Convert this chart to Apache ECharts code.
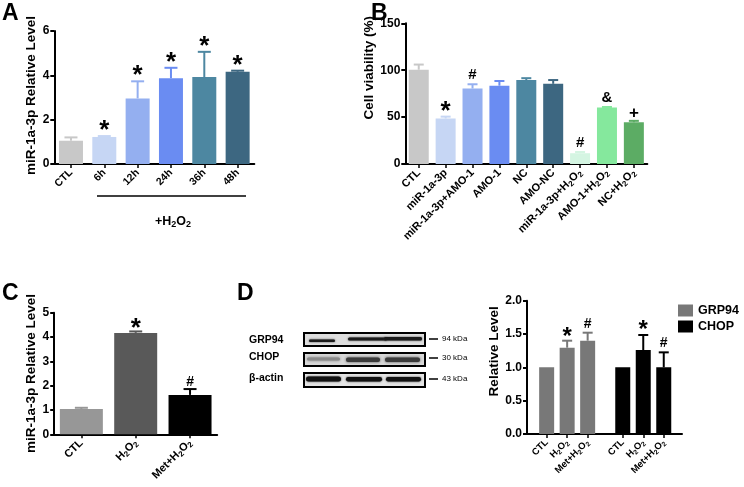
<!DOCTYPE html>
<html><head><meta charset="utf-8">
<script src="https://cdn.jsdelivr.net/npm/echarts@6/dist/echarts.min.js"></script>
<style>html,body{margin:0;padding:0;background:#fff}#c{width:744px;height:487px}</style>
</head><body><div id="c"></div>
<script>
// ---------- Panel A ----------
const catA = ['CTL', '6h', '12h', '24h', '36h', '48h'];
const valA = [1.05, 1.22, 2.96, 3.87, 3.92, 4.16];
const errA = [1.20, 1.26, 3.73, 4.34, 5.06, 4.21];
const noteA = ['', '*', '*', '*', '*', '*'];
// ---------- Panel B ----------
const catB = ['CTL', 'miR-1a-3p', 'miR-1a-3p+AMO-1', 'AMO-1', 'NC', 'AMO-NC', 'miR-1a-3p+H2O2', 'AMO-1+H2O2', 'NC+H2O2'];
const valB = [100.5, 48.5, 80.5, 83.5, 89.5, 85.5, 11.5, 60.3, 44.5];
const errB = [106, 50.5, 85, 88.5, 91.5, 89.5, 12.8, 60.8, 46];
const noteB = ['', '*', '#', '', '', '', '#', '&', '+'];
// ---------- Panel C ----------
const catC = ['CTL', 'H2O2', 'Met+H2O2'];
const valC = [1.04, 4.17, 1.62];
const errC = [1.09, 4.23, 1.86];
const noteC = ['', '*', '#'];
// ---------- Panel D ----------
const catD = ['CTL', 'H2O2', 'Met+H2O2'];
const grp94 = [1.0, 1.295, 1.40];
const grp94Err = [1.0, 1.40, 1.52];
const chop = [1.0, 1.26, 1.0];
const chopErr = [1.0, 1.485, 1.225];
const noteGRP = ['', '*', '#'];
const noteCHOP = ['', '*', '#'];

// ---------- styles ----------
const colA = ['#c8c8c8', '#c6d6f4', '#94aff0', '#6a8cf2', '#4d87a1', '#3d6781'];
const colB = ['#c8c8c8', '#c6d6f4', '#94aff0', '#6a8cf2', '#4d87a1', '#3d6781', '#d4f5e2', '#85e89d', '#5cac64'];
const colC = ['#979797', '#595959', '#000000'];
const colGRP = '#787878', colCHOP = '#000000';
const FF = 'Liberation Sans, Arial, sans-serif';

const sub = s => s.replace(/H2O2/g, 'H{s|2}O{s|2}');
function catLabel(fs) {
  return {
    rotate: 45, interval: 0, margin: 7, color: '#000', fontWeight: 'bold', fontSize: fs, fontFamily: FF,
    lineHeight: fs + 3,
    formatter: v => sub(v),
    rich: { s: { fontSize: fs * 0.72, fontWeight: 'bold', fontFamily: FF, color: '#000', verticalAlign: 'bottom', lineHeight: fs * 0.6 } }
  };
}
const axLine = { show: true, lineStyle: { color: '#000', width: 2 } };
function catAxis(gi, data, fs) {
  return {
    type: 'category', gridIndex: gi, data: data, boundaryGap: true,
    axisLine: axLine,
    axisTick: { show: true, alignWithLabel: true, interval: 0, length: 4, lineStyle: { color: '#000', width: 1.5 } },
    axisLabel: catLabel(fs), splitLine: { show: false }
  };
}
function valAxis(gi, min, max, itv, name, gap, shiftUp, fmt) {
  return {
    type: 'value', gridIndex: gi, min: min, max: max, interval: itv,
    axisLine: axLine,
    axisTick: { show: true, length: 4, lineStyle: { color: '#000', width: 2 } },
    axisLabel: { color: '#000', fontWeight: 'bold', fontSize: 12, fontFamily: FF, margin: 5, formatter: fmt },
    splitLine: { show: false },
    name: name, nameLocation: 'middle', nameGap: gap,
    nameTextStyle: { color: '#000', fontWeight: 'bold', fontSize: 13.5, fontFamily: FF, padding: [0, 0, 0, shiftUp * 2] }
  };
}
function errSeries(xi, vals, errs, cols, notes, capW, fonts) {
  return {
    type: 'custom', xAxisIndex: xi, yAxisIndex: xi, clip: false, z: 5,
    data: vals.map((v, i) => [i, v, errs[i]]),
    renderItem: function (params, api) {
      const i = api.value(0), v = api.value(1), e = api.value(2);
      const p0 = api.coord([i, v]), p1 = api.coord([i, e]);
      const col = Array.isArray(cols) ? cols[params.dataIndex] : cols;
      const ch = [];
      if (e > v) {
        ch.push({ type: 'line', shape: { x1: p0[0], y1: p0[1], x2: p1[0], y2: p1[1] }, style: { stroke: col, lineWidth: 2 } });
        ch.push({ type: 'line', shape: { x1: p1[0] - capW / 2, y1: p1[1], x2: p1[0] + capW / 2, y2: p1[1] }, style: { stroke: col, lineWidth: 2 } });
      }
      const n = notes[params.dataIndex];
      if (n) {
        const f = fonts[n];
        ch.push({ type: 'text', style: { text: n, x: p1[0], y: p1[1] - f[1], align: 'center', verticalAlign: 'middle', font: 'bold ' + f[0] + 'px ' + FF, fill: '#000' } });
      }
      return { type: 'group', children: ch };
    }
  };
}
function barSeries(xi, name, vals, cols, bw) {
  return {
    type: 'bar', name: name, xAxisIndex: xi, yAxisIndex: xi, barWidth: bw, data: vals,
    itemStyle: { color: Array.isArray(cols) ? (p => cols[p.dataIndex]) : cols },
    emphasis: { disabled: true }, animation: false
  };
}

const grids = [
  { left: 54.3, top: 31, width: 200, height: 133 },        // A
  { left: 405.3, top: 23.3, width: 242, height: 140.7 },    // B
  { left: 54.2, top: 312.7, width: 163, height: 121.6 },    // C
  { left: 527, top: 300.7, width: 155, height: 133.3 },     // D frame
  { left: 536.4, top: 300.7, width: 61.5, height: 133.3 },  // D GRP94
  { left: 612.5, top: 300.7, width: 61.5, height: 133.3 }   // D CHOP
].map(g => Object.assign({ outerBoundsMode: 'none', containLabel: false }, g));

const dCat = a => Object.assign(catAxis(a, catD, 9.5), { axisLine: { show: false } });

const option = {
  backgroundColor: '#fff',
  animation: false,
  grid: grids,
  legend: {
    data: ['GRP94', 'CHOP'], orient: 'vertical', left: 678, top: 304, padding: 0, itemWidth: 15, itemHeight: 12, itemGap: 3,
    icon: 'rect', selectedMode: false,
    textStyle: { color: '#000', fontWeight: 'bold', fontSize: 12.5, fontFamily: FF }
  },
  xAxis: [
    catAxis(0, catA, 10.5),
    catAxis(1, catB, 11),
    catAxis(2, catC, 11),
    { type: 'value', gridIndex: 3, min: 0, max: 1, axisLine: axLine, axisTick: { show: false }, axisLabel: { show: false }, splitLine: { show: false } },
    dCat(4),
    dCat(5)
  ],
  yAxis: [
    valAxis(0, 0, 6, 2, 'miR-1a-3p Relative Level', 15, 2),
    valAxis(1, 0, 150, 50, 'Cell viability (%)', 29, 26),
    valAxis(2, 0, 5, 1, 'miR-1a-3p Relative Level', 15, 0),
    valAxis(3, 0, 2, 0.5, 'Relative Level', 18, 16, v => v.toFixed(1)),
    { type: 'value', gridIndex: 4, min: 0, max: 2, show: false },
    { type: 'value', gridIndex: 5, min: 0, max: 2, show: false }
  ],
  series: [
    barSeries(0, 'A', valA, colA, 24),
    errSeries(0, valA, errA, colA, noteA, 13, { '*': [26, 5] }),
    barSeries(1, 'B', valB, colB, 20),
    errSeries(1, valB, errB, colB, noteB, 10, { '*': [26, 5], '#': [15, 9], '&': [15, 9], '+': [17, 8] }),
    barSeries(2, 'C', valC, colC, 43),
    errSeries(2, valC, errC, colC, noteC, 13, { '*': [26, 3], '#': [14, 7] }),
    barSeries(4, 'GRP94', grp94, colGRP, 15),
    errSeries(4, grp94, grp94Err, colGRP, noteGRP, 10, { '*': [24, 3], '#': [14, 9] }),
    barSeries(5, 'CHOP', chop, colCHOP, 15),
    errSeries(5, chop, chopErr, colCHOP, noteCHOP, 10, { '*': [24, 5], '#': [14, 9] })
  ],
  graphic: [
    // panel letters
    { type: 'text', left: 2, top: 2, style: { text: 'A', font: 'bold 23px ' + FF, fill: '#000' } },
    { type: 'text', left: 371, top: 2, style: { text: 'B', font: 'bold 23px ' + FF, fill: '#000' } },
    { type: 'text', left: 2, top: 282, style: { text: 'C', font: 'bold 23px ' + FF, fill: '#000' } },
    { type: 'text', left: 237, top: 282, style: { text: 'D', font: 'bold 23px ' + FF, fill: '#000' } },
    // +H2O2 bracket under panel A
    { type: 'line', shape: { x1: 97, y1: 196, x2: 246, y2: 196 }, style: { stroke: '#000', lineWidth: 1.5 } },
    { type: 'text', x: 173, y: 222, style: { text: '+H{s|2}O{s|2}', align: 'center', verticalAlign: 'middle', font: 'bold 12.5px ' + FF, fill: '#000', lineHeight: 15,
        rich: { s: { font: 'bold 9px ' + FF, verticalAlign: 'bottom', lineHeight: 9 } } } },
    // western blot (panel D)
    { type: 'group', children: [
      { type: 'text', x: 249, y: 340, style: { text: 'GRP94', font: 'bold 10.5px ' + FF, fill: '#000', verticalAlign: 'middle' } },
      { type: 'text', x: 249, y: 357, style: { text: 'CHOP', font: 'bold 10.5px ' + FF, fill: '#000', verticalAlign: 'middle' } },
      { type: 'text', x: 249, y: 378, style: { text: 'β-actin', font: 'bold 10.5px ' + FF, fill: '#000', verticalAlign: 'middle' } },
      { type: 'rect', shape: { x: 304, y: 333, width: 121, height: 13 }, style: { fill: '#dedede', stroke: '#000', lineWidth: 2 } },
      { type: 'rect', shape: { x: 304, y: 353, width: 121, height: 13 }, style: { fill: '#d8d8d8', stroke: '#000', lineWidth: 2 } },
      { type: 'rect', shape: { x: 304, y: 373, width: 121, height: 14 }, style: { fill: '#e4e4e4', stroke: '#000', lineWidth: 2 } },
      // GRP94 bands
      { type: 'rect', shape: { x: 309, y: 339.5, width: 26, height: 2.5, r: 1.2 }, style: { fill: '#1a1a1a', shadowBlur: 2, shadowColor: '#333' } },
      { type: 'rect', shape: { x: 348, y: 337.5, width: 39, height: 3, r: 1.5 }, style: { fill: '#1a1a1a', shadowBlur: 2, shadowColor: '#333' } },
      { type: 'rect', shape: { x: 384, y: 337, width: 38, height: 3.5, r: 1.5 }, style: { fill: '#1a1a1a', shadowBlur: 2, shadowColor: '#333' } },
      // CHOP bands
      { type: 'rect', shape: { x: 307, y: 357.5, width: 33, height: 3, r: 1.5 }, style: { fill: '#8a8a8a', shadowBlur: 3, shadowColor: '#777' } },
      { type: 'rect', shape: { x: 346, y: 357.5, width: 34, height: 4.5, r: 2 }, style: { fill: '#3a3a3a', shadowBlur: 3, shadowColor: '#444' } },
      { type: 'rect', shape: { x: 385, y: 357.5, width: 35, height: 4.5, r: 2 }, style: { fill: '#3a3a3a', shadowBlur: 3, shadowColor: '#444' } },
      // beta-actin bands
      { type: 'rect', shape: { x: 306, y: 376.5, width: 35, height: 5, r: 2.5 }, style: { fill: '#111', shadowBlur: 2, shadowColor: '#222' } },
      { type: 'rect', shape: { x: 346, y: 377, width: 36, height: 4.5, r: 2.2 }, style: { fill: '#111', shadowBlur: 2, shadowColor: '#222' } },
      { type: 'rect', shape: { x: 386, y: 377, width: 35, height: 4.5, r: 2.2 }, style: { fill: '#111', shadowBlur: 2, shadowColor: '#222' } },
      // markers
      { type: 'line', shape: { x1: 429, y1: 339, x2: 438, y2: 339 }, style: { stroke: '#000', lineWidth: 1.5 } },
      { type: 'line', shape: { x1: 429, y1: 358, x2: 438, y2: 358 }, style: { stroke: '#000', lineWidth: 1.5 } },
      { type: 'line', shape: { x1: 429, y1: 379, x2: 438, y2: 379 }, style: { stroke: '#000', lineWidth: 1.5 } },
      { type: 'text', x: 442, y: 339, style: { text: '94 kDa', font: '8px ' + FF, fill: '#000', verticalAlign: 'middle' } },
      { type: 'text', x: 442, y: 358, style: { text: '30 kDa', font: '8px ' + FF, fill: '#000', verticalAlign: 'middle' } },
      { type: 'text', x: 442, y: 379, style: { text: '43 kDa', font: '8px ' + FF, fill: '#000', verticalAlign: 'middle' } }
    ] }
  ]
};
const chart = echarts.init(document.getElementById('c'), null, { renderer: 'canvas' });
chart.setOption(option);
</script>
</body></html>
